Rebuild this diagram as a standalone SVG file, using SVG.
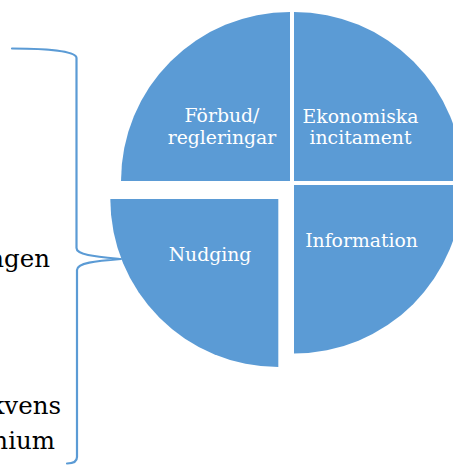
<svg xmlns="http://www.w3.org/2000/svg" width="453" height="465" viewBox="0 0 453 465">
  <style>
    .seg { fill: #5B9BD5; }
    .lbl { font-family: "DejaVu Serif", "Liberation Serif", serif; font-size: 18.8px; fill: #FFFFFF; text-anchor: middle; }
    .side { font-family: "DejaVu Serif", "Liberation Serif", serif; font-size: 24.5px; fill: #000000; text-anchor: end; }
    .brace { fill: none; stroke: #5B9BD5; stroke-width: 2.2; stroke-linejoin: round; stroke-linecap: round; }
  </style>
  <rect width="453" height="465" fill="#FFFFFF"/>
  <g id="side-texts">
    <text class="side" x="50" y="267">ngen</text>
    <text class="side" x="61" y="414">kvens</text>
    <text class="side" x="55" y="449">nium</text>
  </g>
  <g id="connectors">
    <path class="brace" d="M12,48.5 C48,48.5 76.5,51 76.5,58 V248 C76.5,255 95,256.5 121,259 C95,261 77,263 77,270 V457 C77,462 73,463.5 67,463.5"/>
  </g>
  <g id="node-forbud">
    <path class="seg" d="M290,181 V12 A169,169 0 0 0 121,181 Z"/>
    <text class="lbl" x="222" y="122">Förbud/</text>
    <text class="lbl" x="222" y="143.5">regleringar</text>
  </g>
  <g id="node-ekonomiska">
    <path class="seg" d="M294,181 V12 A169,169 0 0 1 463,181 Z"/>
    <text class="lbl" x="360.5" y="122.5">Ekonomiska</text>
    <text class="lbl" x="360.5" y="143.5">incitament</text>
  </g>
  <g id="node-information">
    <path class="seg" d="M294,185 H462.5 A168.5,168.5 0 0 1 294,353.5 Z"/>
    <text class="lbl" x="361.5" y="247">Information</text>
  </g>
  <g id="node-nudging">
    <path class="seg" d="M278.3,199 V367 A168,168 0 0 1 110.3,199 Z"/>
    <text class="lbl" x="210" y="261">Nudging</text>
  </g>
</svg>
